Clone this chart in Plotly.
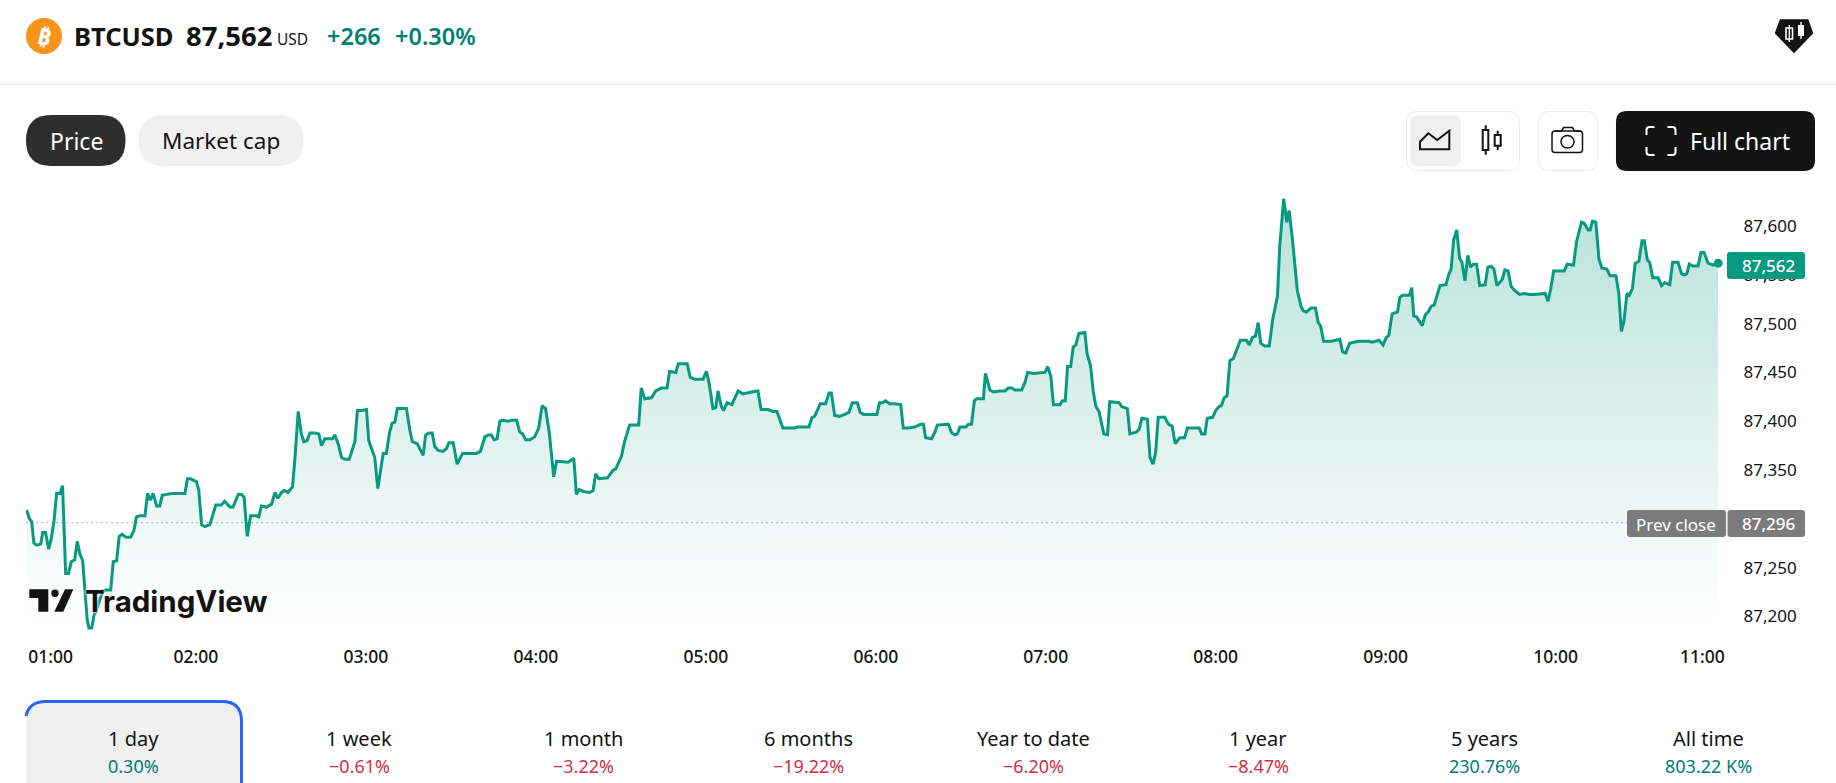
import plotly.graph_objects as go

# Minutes elapsed since 01:00 and the BTCUSD price at that moment
minutes = [
    0.2,1.2,2.0,2.8,3.8,5.2,5.9,6.9,8.0,8.8,9.9,10.8,12.0,12.9,14.0,15.0,16.0,17.2,18.1,19.0,20.0,20.7,21.6,22.2,23.2,24.0,25.2,26.1,27.3,28.2,
    29.9,30.8,32.0,32.9,33.9,35.3,36.9,38.1,39.0,40.2,42.0,42.9,43.9,44.9,46.1,47.2,48.1,49.6,51.4,53.2,54.9,56.1,57.0,58.1,60.2,61.0,62.0,63.1,64.9,66.1,
    67.0,68.9,70.1,72.0,73.1,74.9,76.1,77.0,78.1,79.3,81.4,82.2,83.1,84.9,86.7,87.9,88.9,90.2,91.1,92.5,94.1,94.9,96.1,97.2,98.1,99.2,100.2,101.9,103.4,104.3,
    105.5,108.2,109.0,110.2,111.4,112.5,114.1,116.1,117.0,118.4,120.2,121.0,123.1,124.2,126.1,127.2,128.4,129.3,130.2,131.1,134.3,135.5,136.4,138.1,140.2,141.1,142.3,143.4,144.3,145.5,
    147.2,148.4,149.3,150.8,152.2,154.1,159.0,160.4,162.0,163.2,164.3,165.2,166.3,167.3,168.4,170.2,171.4,173.2,174.3,175.3,176.4,177.9,179.6,181.0,182.2,183.4,184.7,186.3,187.3,191.4,
    193.4,194.3,195.3,196.7,199.0,200.2,201.1,202.2,205.3,207.3,208.2,210.2,211.4,213.1,216.3,217.2,218.4,220.8,222.3,224.3,226.3,227.2,229.4,230.3,233.4,234.5,236.1,239.0,240.2,241.1,
    242.5,243.5,244.3,245.5,246.3,247.5,249.2,251.4,253.1,256.1,258.4,259.5,261.9,263.7,265.1,267.2,271.3,272.5,276.4,277.5,278.4,280.4,282.3,283.5,284.3,285.5,287.2,289.0,290.5,291.7,
    293.5,294.5,295.7,300.4,301.3,302.5,303.4,304.9,306.6,308.8,309.7,311.5,313.8,315.8,316.8,317.6,319.7,320.9,321.7,325.6,326.8,328.0,328.8,329.7,331.8,332.7,333.8,334.8,335.6,338.0,
    338.7,340.3,341.5,343.6,345.6,346.8,348.0,349.1,351.5,352.7,353.6,355.6,359.7,360.7,361.8,362.7,365.0,365.9,366.9,367.7,368.8,369.7,370.6,371.7,373.8,374.6,375.8,376.8,377.7,378.8,
    380.5,381.8,382.6,385.9,386.8,388.8,389.7,392.1,393.0,393.9,395.9,396.8,397.9,398.8,399.7,402.0,403.3,404.6,405.7,407.3,409.0,410.0,414.2,415.0,416.2,417.0,418.9,420.0,421.2,422.0,
    423.0,424.0,425.0,426.2,428.7,430.9,431.8,433.0,434.0,435.0,435.9,437.3,438.9,440.1,441.8,442.6,444.0,445.1,445.9,447.0,448.8,450.2,451.0,452.0,453.7,455.2,456.2,457.0,458.1,460.8,
    463.8,464.8,465.9,467.3,469.4,470.3,474.2,475.2,477.7,479.1,480.2,481.1,482.3,483.2,484.2,485.0,486.0,488.4,489.2,489.9,490.9,492.9,494.0,495.0,496.1,497.1,499.2,501.3,502.2,503.1,
    504.0,505.1,506.1,506.9,508.0,509.0,510.0,511.0,512.1,513.2,515.1,516.1,517.2,518.2,519.3,521.1,522.1,523.2,524.3,525.5,527.2,529.0,530.8,532.5,536.3,537.3,538.3,539.3,543.0,544.1,
    546.3,547.4,549.1,550.1,551.5,552.2,553.0,554.2,555.3,556.3,558.1,559.2,561.3,562.3,563.2,564.1,565.2,566.0,567.1,568.1,569.4,570.5,571.3,572.4,573.2,574.3,576.2,577.4,578.5,580.3,
    581.3,583.2,584.5,585.4,586.3,587.2,588.4,590.3,591.3,592.4,593.8,595.6,597.4,
]
prices = [
    87309,87300,87297,87275,87273,87274,87286,87286,87269,87278,87298,87326,87326,87334,87244,87244,87256,87258,87277,87264,87257,87230,87197,87188,87188,87201,87209,87218,87226,87227,
    87227,87256,87257,87282,87284,87281,87281,87288,87302,87303,87303,87326,87319,87326,87313,87313,87324,87325,87326,87326,87326,87326,87341,87341,87338,87329,87294,87292,87294,87307,
    87314,87314,87318,87312,87312,87325,87325,87322,87282,87303,87303,87302,87313,87312,87315,87327,87321,87327,87329,87327,87333,87360,87410,87387,87379,87380,87388,87388,87387,87375,
    87382,87382,87386,87377,87363,87361,87361,87379,87411,87411,87412,87380,87363,87331,87367,87367,87389,87398,87399,87413,87413,87391,87379,87377,87365,87386,87388,87388,87374,87370,
    87369,87372,87378,87378,87356,87367,87367,87369,87384,87386,87386,87381,87382,87400,87401,87400,87401,87401,87389,87387,87381,87381,87384,87393,87416,87413,87389,87343,87359,87358,
    87362,87325,87330,87328,87327,87329,87346,87341,87342,87350,87351,87364,87380,87396,87396,87434,87423,87424,87431,87434,87434,87451,87450,87459,87459,87445,87443,87443,87451,87440,
    87413,87414,87431,87415,87411,87419,87417,87431,87428,87430,87431,87412,87412,87410,87410,87393,87393,87394,87394,87404,87405,87418,87418,87429,87429,87406,87405,87407,87409,87419,
    87419,87409,87407,87407,87419,87419,87421,87418,87418,87417,87393,87393,87394,87397,87397,87383,87382,87389,87396,87397,87388,87386,87387,87394,87394,87397,87397,87421,87423,87423,
    87449,87432,87430,87431,87431,87434,87434,87432,87432,87440,87450,87449,87450,87456,87446,87417,87417,87421,87421,87456,87456,87476,87478,87490,87491,87469,87457,87430,87415,87410,
    87387,87386,87420,87419,87415,87413,87387,87389,87392,87403,87402,87363,87356,87368,87404,87404,87397,87395,87377,87383,87383,87393,87393,87387,87387,87403,87404,87411,87415,87416,
    87424,87426,87462,87464,87483,87483,87478,87486,87487,87501,87480,87477,87477,87504,87528,87579,87628,87604,87616,87589,87534,87517,87513,87512,87516,87516,87501,87498,87482,87482,
    87484,87471,87470,87480,87481,87482,87482,87481,87483,87478,87486,87488,87510,87511,87512,87527,87529,87529,87537,87508,87507,87498,87509,87512,87518,87519,87539,87540,87550,87556,
    87586,87596,87567,87563,87544,87570,87558,87561,87561,87539,87540,87558,87559,87556,87539,87545,87555,87554,87538,87534,87530,87531,87530,87530,87531,87523,87536,87554,87554,87561,
    87560,87584,87604,87603,87596,87596,87605,87604,87566,87557,87556,87549,87549,87531,87492,87502,87531,87529,87536,87562,87564,87585,87585,87565,87563,87547,87547,87539,87542,87540,
    87563,87563,87551,87550,87551,87561,87559,87559,87573,87573,87562,87560,87562,
]
prev_close = 87296
last_price = 87562

price_ticks_shown = [87200, 87250, 87350, 87400, 87450, 87500, 87550, 87600]
price_tick_text_shown = ["87,200", "87,250", "87,350", "87,400", "87,450", "87,500", "87,550", "87,600"]

time_tick_pos = [8.7, 60, 120, 180, 240, 300, 360, 420, 480, 540, 591.8]
time_tick_text = ["01:00", "02:00", "03:00", "04:00", "05:00", "06:00", "07:00", "08:00", "09:00", "10:00", "11:00"]

period_names = ["1 day", "1 week", "1 month", "6 months", "Year to date", "1 year", "5 years", "All time"]
period_changes = ["0.30%", "−0.61%", "−3.22%", "−19.22%", "−6.20%", "−8.47%", "230.76%", "803.22 K%"]
period_centers = [133, 359, 583, 808, 1033, 1258, 1484, 1708]

W, H = 1836, 783
FONT = "Noto Sans"
TEAL = "#089981"
UP_TEXT = "#00806f"
DOWN_TEXT = "#d42f3d"
INK = "#131313"


def px(x):
    return x / W


def py(y):
    return 1 - y / H


def poly(points, close=True):
    d = "M" + " L".join(f"{px(x):.5f},{py(y):.5f}" for x, y in points)
    return d + (" Z" if close else "")


def round_rect(x0, y0, x1, y1, r):
    p = lambda x, y: f"{px(x):.5f},{py(y):.5f}"
    return (
        f"M{p(x0 + r, y0)} L{p(x1 - r, y0)} Q{p(x1, y0)} {p(x1, y0 + r)} "
        f"L{p(x1, y1 - r)} Q{p(x1, y1)} {p(x1 - r, y1)} L{p(x0 + r, y1)} "
        f"Q{p(x0, y1)} {p(x0, y1 - r)} L{p(x0, y0 + r)} Q{p(x0, y0)} {p(x0 + r, y0)} Z"
    )


shapes = []
annotations = []


def add_path(path, fill=None, line=None, width=0):
    shapes.append(dict(
        type="path", path=path, xref="paper", yref="paper", layer="above",
        fillcolor=fill if fill else "rgba(0,0,0,0)",
        line=dict(color=line if line else "rgba(0,0,0,0)", width=width),
    ))


def add_text(text, x, y, size, color=INK, anchor="center", weight=400, family=FONT, shadow=None, angle=0):
    font = dict(family=family, size=size, color=color, weight=weight)
    if shadow:
        font["shadow"] = shadow
    annotations.append(dict(
        text=text, x=px(x), y=py(y), xref="paper", yref="paper", showarrow=False,
        xanchor=anchor, yanchor="middle", font=font, textangle=angle, borderpad=0,
    ))


fig = go.Figure()

# Invisible floor that the area gradient fills down to
fig.add_trace(go.Scatter(
    x=[minutes[0], minutes[-1]], y=[87186, 87186], mode="lines",
    line=dict(width=0, color="rgba(0,0,0,0)"), hoverinfo="skip", showlegend=False,
))
fig.add_trace(go.Scatter(
    x=minutes, y=prices, mode="lines", fill="tonexty", line=dict(width=0, color="rgba(0,0,0,0)"),
    fillgradient=dict(
        type="vertical", start=87193, stop=87632,
        colorscale=[[0, "rgba(8,153,129,0)"], [1, "rgba(8,153,129,0.29)"]],
    ),
    hoverinfo="skip", showlegend=False,
))
fig.add_trace(go.Scatter(
    x=[minutes[0], minutes[-1]], y=[prev_close, prev_close], mode="lines",
    line=dict(color="#5f6370", width=1, dash="1px,4px"), hoverinfo="skip", showlegend=False,
))
fig.add_trace(go.Scatter(
    x=minutes, y=prices, mode="lines", line=dict(color=TEAL, width=3, shape="linear"),
    showlegend=False, cliponaxis=False,
))
fig.add_trace(go.Scatter(
    x=[minutes[-1]], y=[last_price], mode="markers", marker=dict(color=TEAL, size=9),
    showlegend=False, cliponaxis=False,
))

# Header row
shapes.append(dict(type="line", xref="paper", yref="paper", x0=0, x1=1, y0=py(84.5), y1=py(84.5),
                   line=dict(color="#ebebeb", width=1), layer="above"))
shapes.append(dict(type="circle", xref="paper", yref="paper", layer="above",
                   x0=px(26), x1=px(62), y0=py(54), y1=py(18), fillcolor="#f7931a", line=dict(width=0)))
add_text("₿", 44, 36, 23, "#ffffff", weight=700, angle=14)
add_text("BTCUSD", 73, 36, 25.5, anchor="left", weight=700)
add_text("87,562", 185, 36, 27.5, anchor="left", weight=700)
add_text("USD", 276, 39, 15.5, anchor="left")
add_text("+266", 326, 36, 23.5, UP_TEXT, anchor="left", weight=600)
add_text("+0.30%", 394, 36, 23.5, UP_TEXT, anchor="left", weight=600)

# Brand badge in the top right corner
add_path(poly([(1780, 19.3), (1808.3, 19.3), (1813.3, 33.3), (1794, 53.3), (1774.7, 33.3)]), fill=INK)
add_path(poly([(1786, 28), (1792.5, 28), (1792.5, 39), (1786, 39)]), line="#ffffff", width=1.6)
add_path(poly([(1789.3, 25), (1789.3, 42)], close=False), line="#ffffff", width=1.4)
add_path(poly([(1798, 25), (1804, 25), (1804, 36), (1798, 36)]), fill="#ffffff")
add_path(poly([(1801, 22), (1801, 39)], close=False), line="#ffffff", width=1.4)

# Price / market cap switch
add_path(round_rect(26, 115, 125.5, 166, 25.5), fill="#2e2e2e")
add_path(round_rect(138.5, 115, 303.5, 166, 25.5), fill="#f0f0f0")
add_text("Price", 76, 141, 23, "#ffffff")
add_text("Market cap", 221, 141, 22.5)

# Chart type buttons
add_path(round_rect(1406.5, 111.5, 1519.5, 170.5, 11), line="#ebebeb", width=1)
add_path(round_rect(1410, 115, 1461, 166, 8), fill="#f0f0f0")
add_path(poly([(1420, 141.7), (1420, 149.3), (1449.3, 149.3), (1449.3, 130.7), (1437.3, 140), (1428.3, 133.3)]),
         line=INK, width=2)
add_path(poly([(1482.7, 130), (1488.3, 130), (1488.3, 150), (1482.7, 150)]), line=INK, width=2)
add_path(poly([(1485.7, 125.3), (1485.7, 130)], close=False), line=INK, width=2)
add_path(poly([(1485.7, 150), (1485.7, 154.7)], close=False), line=INK, width=2)
add_path(poly([(1494.7, 135), (1500.7, 135), (1500.7, 145.7), (1494.7, 145.7)]), line=INK, width=2)
add_path(poly([(1497.7, 130.7), (1497.7, 135)], close=False), line=INK, width=2)
add_path(poly([(1497.7, 145.7), (1497.7, 150)], close=False), line=INK, width=2)

# Snapshot button
add_path(round_rect(1538.5, 111.5, 1597.5, 170.5, 11), line="#ebebeb", width=1)
add_path(poly([(1555, 131), (1561.5, 131), (1563.5, 127.5), (1572.5, 127.5), (1574.5, 131), (1581, 131)], close=False),
         line=INK, width=1.5)
add_path(round_rect(1552, 131, 1582.5, 152.5, 3), line=INK, width=1.5)
shapes.append(dict(type="circle", xref="paper", yref="paper", layer="above",
                   x0=px(1561), x1=px(1574), y0=py(148), y1=py(135.5),
                   line=dict(color=INK, width=1.5), fillcolor="rgba(0,0,0,0)"))

# Full chart button
add_path(round_rect(1616, 111, 1815, 171, 11), fill=INK)
for cx, cy, sx, sy in [(1646.5, 127, 1, 1), (1675.5, 127, -1, 1), (1646.5, 155, 1, -1), (1675.5, 155, -1, -1)]:
    add_path(
        f"M{px(cx):.5f},{py(cy + 8 * sy):.5f} L{px(cx):.5f},{py(cy + 3 * sy):.5f} "
        f"Q{px(cx):.5f},{py(cy):.5f} {px(cx + 3 * sx):.5f},{py(cy):.5f} L{px(cx + 8 * sx):.5f},{py(cy):.5f}",
        line="#ffffff", width=2,
    )
add_text("Full chart", 1739.5, 141, 23, "#ffffff")

# Watermark
add_path(poly([(29.3, 589.3), (48.3, 589.3), (48.3, 611.7), (38.3, 611.7), (38.3, 598), (29.3, 598)]), fill=INK)
shapes.append(dict(type="circle", xref="paper", yref="paper", layer="above",
                   x0=px(51.3), x1=px(58.7), y0=py(597), y1=py(589.6), fillcolor=INK, line=dict(width=0)))
add_path(poly([(65, 589.3), (73.3, 589.3), (63.3, 611.7), (54.3, 611.7)]), fill=INK)
add_text("TradingView", 84, 601, 29.5, anchor="left", weight=700, family="Inter",
         shadow="0 0 3px #ffffff, 0 0 3px #ffffff")

# Last price and previous close tags on the scale
add_path(round_rect(1727, 252, 1805, 279, 3), fill=TEAL)
add_text("87,562", 1768.5, 265.5, 17, "#ffffff", weight=500)
add_path(round_rect(1627, 510, 1726, 537, 3), fill="#7b7b7b")
add_path(round_rect(1727.5, 510, 1805, 537, 3), fill="#7b7b7b")
add_text("Prev close", 1676, 524, 17, "#ffffff")
add_text("87,296", 1768.5, 523.5, 17, "#ffffff", weight=500)

# Period tabs along the bottom; the first one is selected
add_path(
    f"M{px(26):.5f},{py(783):.5f} L{px(26):.5f},{py(720):.5f} Q{px(26):.5f},{py(701.5):.5f} {px(46):.5f},{py(701.5):.5f} "
    f"L{px(222):.5f},{py(701.5):.5f} Q{px(241.5):.5f},{py(701.5):.5f} {px(241.5):.5f},{py(721):.5f} L{px(241.5):.5f},{py(783):.5f} Z",
    fill="#f0f0f0",
)
add_path(
    f"M{px(26):.5f},{py(716):.5f} Q{px(29):.5f},{py(701.5):.5f} {px(46):.5f},{py(701.5):.5f} "
    f"L{px(222):.5f},{py(701.5):.5f} Q{px(241.5):.5f},{py(701.5):.5f} {px(241.5):.5f},{py(721):.5f} L{px(241.5):.5f},{py(783):.5f}",
    line="#2962ff", width=3,
)
for name, change, cx in zip(period_names, period_changes, period_centers):
    add_text(name, cx, 738, 20)
    add_text(change, cx, 766, 18, DOWN_TEXT if change.startswith("−") else UP_TEXT)

fig.update_layout(
    width=W, height=H, margin=dict(l=0, r=0, t=0, b=0, autoexpand=False), autosize=False,
    paper_bgcolor="#ffffff", plot_bgcolor="#ffffff", showlegend=False, hovermode=False,
    shapes=shapes, annotations=annotations,
    xaxis=dict(
        domain=[26 / W, 1718.5 / W], range=[0, 597.5], showgrid=False, zeroline=False, showline=False,
        tickmode="array", tickvals=time_tick_pos, ticktext=time_tick_text, ticks="",
        tickfont=dict(family=FONT, size=17.5, color=INK, weight=500), ticklabelstandoff=14,
    ),
    yaxis=dict(
        domain=[1 - 630 / H, 1 - 190 / H], range=[87186, 87637], side="right", showgrid=False,
        zeroline=False, showline=False, tickmode="array", tickvals=price_ticks_shown,
        ticktext=price_tick_text_shown, ticks="", tickfont=dict(family=FONT, size=17, color=INK),
        ticklabelstandoff=24,
    ),
)

fig.write_html("out.html")
